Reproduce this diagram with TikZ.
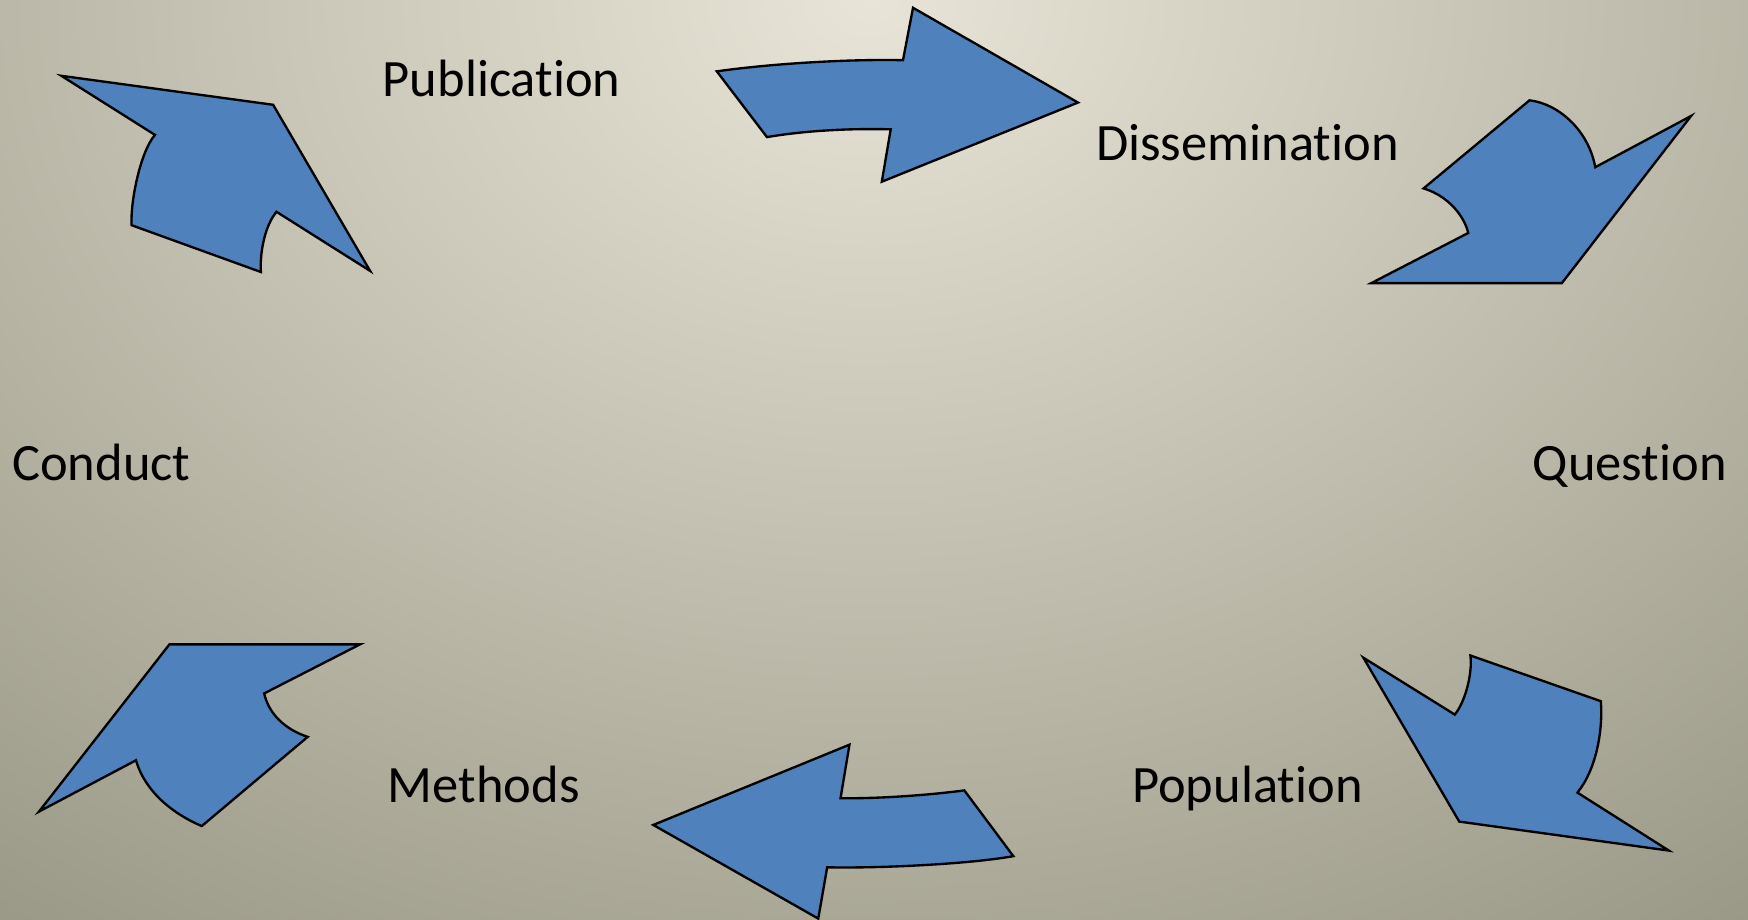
\documentclass[tikz,border=0pt]{standalone}
\usepackage{fontspec}
\setmainfont{Carlito}[Ligatures=NoCommon]
\definecolor{arrowblue}{HTML}{4F81BD}
\definecolor{bgtop}{HTML}{E8E5D8}
\definecolor{bgedge}{HTML}{9A9886}
\pgfdeclareradialshading{slidebg}{\pgfpoint{0bp}{0bp}}{color(0bp)=(bgtop); color(25bp)=(bgedge); color(50bp)=(bgedge)}
\begin{document}
\begin{tikzpicture}[x=.1mm, y=-.1mm,
  blockarrow/.style={fill=arrowblue, draw=black, line width=.6pt, line join=miter},
  stage/.style={font=\fontsize{13.4}{16}\selectfont, inner sep=0pt, anchor=base}]
\useasboundingbox (0,0) rectangle (1568,825);
\begin{scope}
\clip (0,0) rectangle (1568,825);
\shade[shading=slidebg] (780,0) ellipse [x radius=13.2cm, y radius=10.3cm];
\end{scope}

\node[stage] (publication) at (450,87) {Publication};
\node[stage] (dissemination) at (1119,144) {Dissemination};
\node[stage] (question) at (1462,431) {Question};
\node[stage] (population) at (1119,720) {Population};
\node[stage] (methods) at (434,720) {Methods};
\node[stage] (conduct) at (91,431) {Conduct};

% conduct -> publication
\draw[blockarrow] (55,68)--(245,94)--(332,243)--(248,190) .. controls (238,202) and (233,225) .. (234,244)
  --(118,202) .. controls (117,180) and (126,136) .. (139,121)--cycle;
% publication -> dissemination
\draw[blockarrow] (643,64) .. controls (700,56) and (770,53) .. (810,54)--(819,7)--(967,92)--(791,163)
  --(799,116) .. controls (760,115) and (720,117.5) .. (688,123)--cycle;
% dissemination -> question
\draw[blockarrow] (1372,90) .. controls (1398,93) and (1425,117) .. (1431,150)--(1517,104)--(1401,254)
  --(1230,254)--(1317,209) .. controls (1314,195) and (1300,176) .. (1277,169)--cycle;
% question -> population
\draw[blockarrow] (1223,590)--(1305,641) .. controls (1314,630) and (1321,605) .. (1319,588)
  --(1436,629) .. controls (1438,655) and (1432,690) .. (1415,711)--(1497,763)--(1309,737)--cycle;
% population -> methods
\draw[blockarrow] (865,709)--(909,768) .. controls (870,775) and (790,779) .. (742,778)--(734,824)
  --(586,740)--(762,668)--(754,716) .. controls (790,716.5) and (835,713) .. (865,709)--cycle;
% methods -> conduct
\draw[blockarrow] (152,578)--(323,578)--(237,622) .. controls (241,640) and (255,654) .. (276,661)
  --(181,741) .. controls (155,730) and (130,710) .. (122,682)--(35,728)--cycle;
\end{tikzpicture}
\end{document}
